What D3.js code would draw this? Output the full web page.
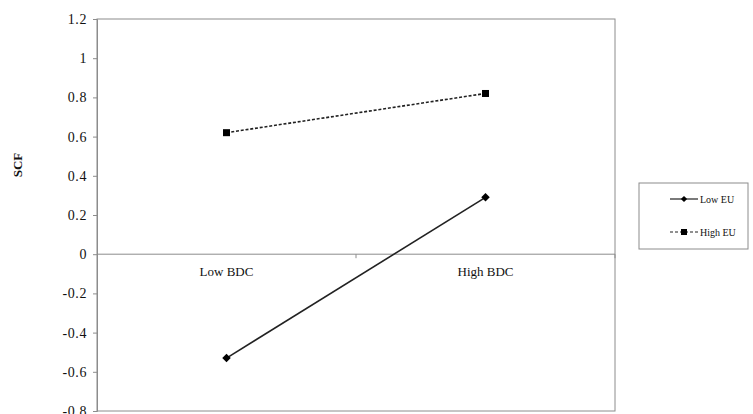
<!DOCTYPE html>
<html>
<head>
<meta charset="utf-8">
<script src="https://cdn.jsdelivr.net/npm/d3@7"></script>
<style>
  body { margin: 0; background: #fff; }
  svg { display: block; font-family: "Liberation Serif", "Times New Roman", serif; }
</style>
</head>
<body>
<svg id="chart" width="753" height="414"></svg>
<script>
const categories = ["Low BDC", "High BDC"];
const lowEU = [-0.53, 0.29];
const highEU = [0.62, 0.82];
const yTicks = [1.2, 1, 0.8, 0.6, 0.4, 0.2, 0, -0.2, -0.4, -0.6, -0.8];

const svg = d3.select("#chart");
const margin = { top: 19, left: 97, right: 138, bottom: 3 };
const width = 753, height = 414;

const x = d3.scaleBand()
  .domain(categories)
  .range([margin.left, width - margin.right]);
const y = d3.scaleLinear()
  .domain([-0.8, 1.2])
  .range([height - margin.bottom, margin.top]);

const grey = "#8c8c8c";

// plot frame
svg.append("rect")
  .attr("x", margin.left).attr("y", margin.top)
  .attr("width", x.range()[1] - margin.left)
  .attr("height", y(-0.8) - margin.top)
  .attr("fill", "none").attr("stroke", grey).attr("stroke-width", 1);

// y axis, plain hyphen for negatives like the original
const yAxis = svg.append("g")
  .attr("transform", `translate(${margin.left},0)`)
  .call(d3.axisLeft(y).tickValues(yTicks).tickSize(4).tickPadding(6)
    .tickFormat(d => String(+d.toFixed(1))));
yAxis.selectAll("line, path").attr("stroke", grey);
yAxis.selectAll("text")
  .attr("font-size", 14)
  .attr("letter-spacing", 0.6)
  .attr("fill", "#111")
  .attr("font-family", "Liberation Serif");

// zero line with category ticks
svg.append("line")
  .attr("x1", margin.left).attr("x2", x.range()[1])
  .attr("y1", y(0)).attr("y2", y(0))
  .attr("stroke", grey);
svg.selectAll(".ctick")
  .data([x.range()[0] + x.bandwidth(), x.range()[1]])
  .join("line")
  .attr("x1", d => d).attr("x2", d => d)
  .attr("y1", y(0)).attr("y2", y(0) + 4)
  .attr("stroke", grey);

svg.selectAll(".clabel")
  .data(categories)
  .join("text")
  .attr("x", d => x(d) + x.bandwidth() / 2)
  .attr("y", y(0) + 22)
  .attr("text-anchor", "middle")
  .attr("font-size", 13)
  .attr("fill", "#111")
  .text(d => d);

// y title
svg.append("text")
  .attr("transform", `translate(22,${165}) rotate(-90)`)
  .attr("text-anchor", "middle")
  .attr("font-size", 13)
  .attr("font-weight", "bold")
  .attr("fill", "#111")
  .text("SCF");

const line = d3.line()
  .x((d, i) => x(categories[i]) + x.bandwidth() / 2)
  .y(d => y(d));

// High EU dashed with squares
svg.append("path")
  .datum(highEU)
  .attr("d", line)
  .attr("fill", "none")
  .attr("stroke", "#222")
  .attr("stroke-width", 1.6)
  .attr("stroke-dasharray", "3,1.8");
svg.selectAll(".sq")
  .data(highEU)
  .join("rect")
  .attr("x", (d, i) => x(categories[i]) + x.bandwidth() / 2 - 3.5)
  .attr("y", d => y(d) - 3.5)
  .attr("width", 7).attr("height", 7)
  .attr("fill", "#000");

// Low EU solid with small diamonds
svg.append("path")
  .datum(lowEU)
  .attr("d", line)
  .attr("fill", "none")
  .attr("stroke", "#222")
  .attr("stroke-width", 1.6);
svg.selectAll(".dm")
  .data(lowEU)
  .join("rect")
  .attr("transform", (d, i) => `translate(${x(categories[i]) + x.bandwidth() / 2},${y(d)}) rotate(45)`)
  .attr("x", -3).attr("y", -3)
  .attr("width", 6).attr("height", 6)
  .attr("fill", "#000");

// legend
const lg = svg.append("g");
lg.append("rect")
  .attr("x", 639).attr("y", 183)
  .attr("width", 109).attr("height", 66)
  .attr("fill", "#fff").attr("stroke", grey);
const legendItems = [
  { name: "Low EU", dash: null, mark: "diamond", y: 199 },
  { name: "High EU", dash: "3,2", mark: "square", y: 232 }
];
legendItems.forEach(it => {
  lg.append("line")
    .attr("x1", 670).attr("x2", 698)
    .attr("y1", it.y).attr("y2", it.y)
    .attr("stroke", "#222").attr("stroke-width", 1.2)
    .attr("stroke-dasharray", it.dash);
  if (it.mark === "square") {
    lg.append("rect").attr("x", 681).attr("y", it.y - 3).attr("width", 6).attr("height", 6).attr("fill", "#000");
  } else {
    lg.append("rect").attr("transform", `translate(684,${it.y}) rotate(45)`)
      .attr("x", -2.2).attr("y", -2.2).attr("width", 4.4).attr("height", 4.4).attr("fill", "#000");
  }
  lg.append("text")
    .attr("x", 700).attr("y", it.y + 3.5)
    .attr("font-size", 10)
    .attr("fill", "#111")
    .text(it.name);
});
</script>
</body>
</html>
